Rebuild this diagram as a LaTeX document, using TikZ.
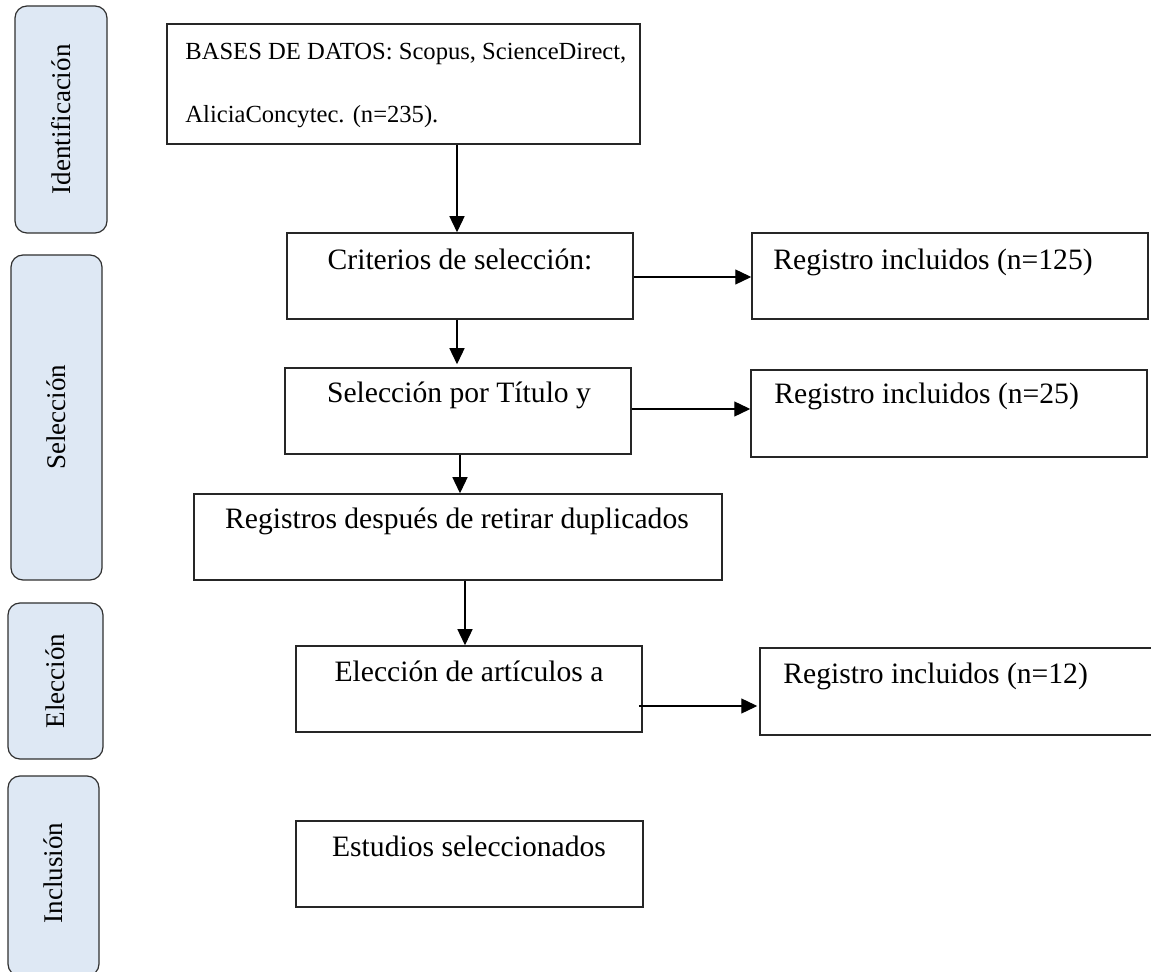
\documentclass[tikz,border=0pt]{standalone}
\usepackage{fontspec}
\setmainfont{Liberation Serif}
\usetikzlibrary{arrows.meta,calc}
\definecolor{sidefill}{HTML}{DEE8F4}
\definecolor{sidedraw}{HTML}{303030}
\definecolor{boxdraw}{HTML}{262626}
\tikzset{
  mainbox/.style={draw=boxdraw,line width=0.75pt,fill=white,inner sep=0pt,minimum width=#1},
  sidebox/.style={draw=sidedraw,line width=0.6pt,fill=sidefill,rounded corners=6pt,inner sep=0pt},
  sidetxt/.style={rotate=90,font=\fontsize{13.5pt}{16pt}\selectfont,inner sep=0pt},
  txt/.style={font=\fontsize{14.8pt}{17pt}\selectfont,inner sep=0pt},
  smalltxt/.style={font=\fontsize{12.3pt}{14pt}\selectfont,inner sep=0pt},
  arr/.style={line width=0.65pt,-{Triangle[length=8pt,width=7.5pt]}}
}
\begin{document}
\begin{tikzpicture}[x=0.5pt,y=-0.5pt]
\clip (0,0) rectangle (1151,972);
\fill[white] (0,0) rectangle (1151,972);
% side boxes
\node[sidebox,minimum width=46pt,minimum height=113.5pt] (sIdent) at (61,119.5) {};
\node[sidetxt] (tIdent) at (61,119.5) {Identificación};
\node[sidebox,minimum width=45.5pt,minimum height=162.5pt] (sSel) at (56.5,417.5) {};
\node[sidetxt] (tSel) at (56.5,417.5) {Selección};
\node[sidebox,minimum width=47.5pt,minimum height=78pt] (sElec) at (55.5,681) {};
\node[sidetxt] (tElec) at (55.5,681) {Elección};
\node[sidebox,minimum width=45.5pt,minimum height=100pt] (sIncl) at (53.5,876) {};
\node[sidetxt] (tIncl) at (53.5,873) {Inclusión};
% main boxes
\node[mainbox=236.5pt,minimum height=60pt] (bases) at (403.5,84) {};
\node[mainbox=173pt,minimum height=43pt] (crit) at (460,276) {};
\node[mainbox=198pt,minimum height=43pt] (r1) at (950,276) {};
\node[mainbox=173pt,minimum height=43pt] (sel) at (458,411) {};
\node[mainbox=198pt,minimum height=43.5pt] (r2) at (949,413.5) {};
\node[mainbox=264pt,minimum height=43pt] (regs) at (458,537) {};
\node[mainbox=173pt,minimum height=43pt] (elec) at (469,689) {};
\node[mainbox=200pt,minimum height=43.5pt] (r3) at (960,691.5) {};
\node[mainbox=173.5pt,minimum height=43pt] (est) at (469.5,864) {};
% texts
\node[smalltxt,anchor=base west] (tBasesA) at (185,60) {BASES DE DATOS: Scopus, ScienceDirect,};
\node[smalltxt,anchor=base west] (tBasesB) at (185,123) {AliciaConcytec. (n=235).};
\node[txt,anchor=base] (tCrit) at (460,270) {Criterios de selección:};
\node[txt,anchor=base west] (tR1) at (773,270) {Registro incluidos (n=125)};
\node[txt,anchor=base] (tSelB) at (459,403) {Selección por Título y};
\node[txt,anchor=base west] (tR2) at (774,404) {Registro incluidos (n=25)};
\node[txt,anchor=base] (tRegs) at (457,529) {Registros después de retirar duplicados};
\node[txt,anchor=base] (tElecB) at (469,682) {Elección de artículos a};
\node[txt,anchor=base west] (tR3) at (783,683) {Registro incluidos (n=12)};
\node[txt,anchor=base] (tEst) at (469,856) {Estudios seleccionados};
% connectors
\draw[arr] ($(crit.north |- bases.south)+(-3,0)$) -- ($(crit.north)+(-3,0)$);
\draw[arr] ($(crit.south)+(-3,0)$) -- ($(crit.south |- sel.north)+(-3,-3)$);
\draw[arr] ($(sel.south)+(2,0)$) -- ($(sel.south |- regs.north)+(2,0)$);
\draw[arr] ($(regs.south)+(7,0)$) -- ($(regs.south |- elec.north)+(7,0)$);
\draw[arr] ($(crit.east)+(0,1)$) -- ($(crit.east -| r1.west)+(0,1)$);
\draw[arr] ($(sel.east)+(0,-2)$) -- ($(sel.east -| r2.west)+(0,-2)$);
\draw[arr] ($(elec.east)+(-4,17)$) -- ($(elec.east -| r3.west)+(-2,17)$);
\end{tikzpicture}
\end{document}
